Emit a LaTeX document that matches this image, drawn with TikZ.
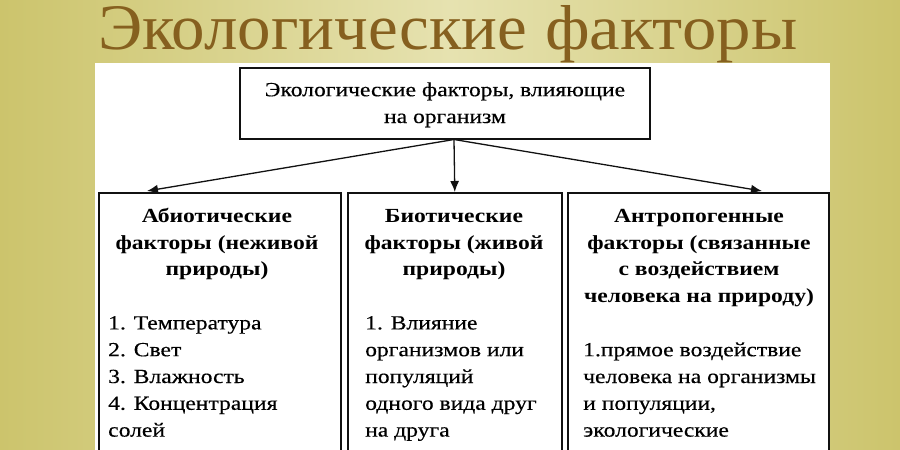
\documentclass[tikz,border=0pt]{standalone}
\usepackage{fontspec}
\setmainfont{Liberation Serif}
\newfontfamily\bodyfont[FakeStretch=1.18, UprightFeatures={RawFeature={embolden=0.4}}]{Liberation Serif}
\usetikzlibrary{arrows.meta}
\definecolor{bgedge}{HTML}{CCC46C}
\definecolor{bgmid}{HTML}{E6E2B0}
\definecolor{titlebrown}{HTML}{86601F}
\definecolor{boxline}{HTML}{111111}
\tikzset{
  box/.style={draw=boxline, line width=1.6pt, fill=white, inner sep=0pt},
  conn/.style={draw=boxline, line width=1.3pt, -{Latex[length=11pt,width=9pt]}},
  txt/.style={inner sep=0pt, font=\bodyfont\fontsize{20}{26.8}\selectfont, text=black},
  head/.style={txt, align=center, font=\bodyfont\fontsize{20}{26.8}\selectfont\bfseries},
  lst/.style={txt, align=left, anchor=north west},
  ttl/.style={anchor=base west, inner sep=0pt, text=titlebrown},
}
\begin{document}
\begin{tikzpicture}[x=1pt,y=-1pt]
\useasboundingbox (0,0) rectangle (900,450);
\clip (0,0) rectangle (900,450);
% background
\shade[left color=bgedge, right color=bgedge, middle color=bgmid] (0,0) rectangle (900,450);
% white panel
\fill[white] (95,63) rectangle (830,470);
% title
\node[ttl] (title1) at (98,49)
  {\resizebox{429pt}{43pt}{\fontsize{62}{62}\selectfont Экологические}};
\node[ttl] (title2) at (545,49)
  {\resizebox{252pt}{44pt}{\fontsize{62}{62}\selectfont факторы}};
% top box
\node[box, minimum width=410pt, minimum height=71pt] (top) at (445,103.5) {};
\node[txt, align=center, anchor=north] (toptxt) at (445,81)
  {\rule{0pt}{15pt}Экологические факторы, влияющие\\на организм};
% bottom boxes
\node[box, anchor=north west, minimum width=242pt, minimum height=300pt] (b1) at (98,192) {};
\node[box, anchor=north west, minimum width=214pt, minimum height=300pt] (b2) at (347,192) {};
\node[box, anchor=north west, minimum width=261pt, minimum height=300pt] (b3) at (567,192) {};
% headings
\node[head, anchor=north] (h1) at (217,207) {\rule{0pt}{15pt}Абиотические\\факторы (неживой\\природы)};
\node[head, anchor=north] (h2) at (454,207) {\rule{0pt}{15pt}Биотические\\факторы (живой\\природы)};
\node[head, anchor=north] (h3) at (699,207) {\rule{0pt}{15pt}Антропогенные\\факторы (связанные\\с воздействием\\человека на природу)};
% lists
\node[lst] (l1) at (108,314.2) {\rule{0pt}{15pt}1. Температура\\2. Свет\\3. Влажность\\4. Концентрация\\солей};
\node[lst] (l2) at (365,314.2) {\rule{0pt}{15pt}1. Влияние\\организмов или\\популяций\\одного вида друг\\на друга};
\node[lst] (l3) at (583,341) {\rule{0pt}{15pt}1.прямое воздействие\\человека на организмы\\и популяции,\\экологические};
% connectors
\coordinate (src) at (454,139.5);
\coordinate (t1) at (147,191);
\coordinate (t3) at (762,191);
\draw[conn] (src) -- (t1);
\draw[conn] (src) -- (b2.north);
\draw[conn] (src) -- (t3);
\end{tikzpicture}
\end{document}
